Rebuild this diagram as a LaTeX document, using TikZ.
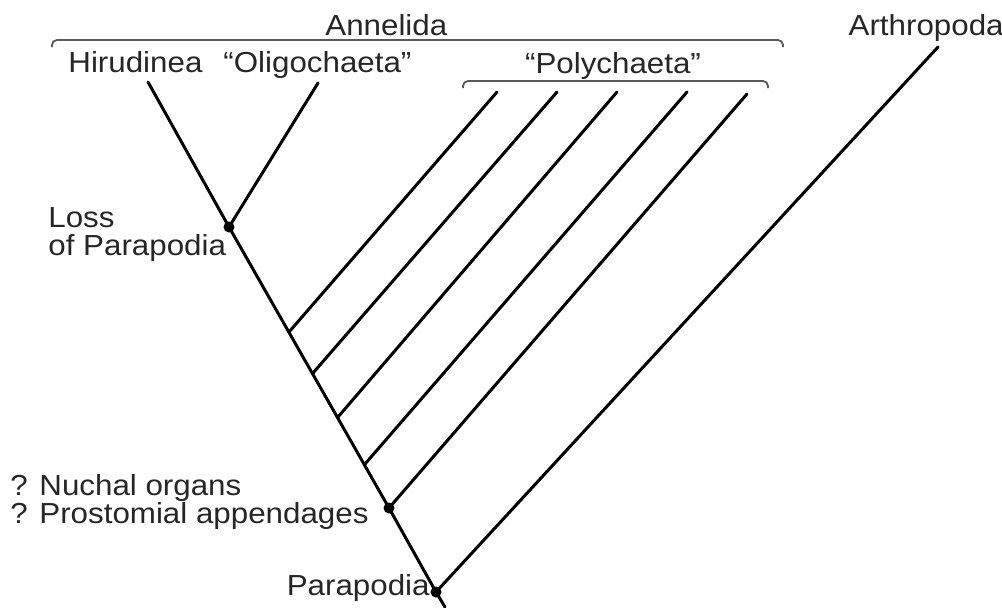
\documentclass[tikz,border=0pt]{standalone}
\usepackage{fontspec}
\setmainfont{Liberation Sans}[FakeStretch=1.08]
\usepackage{tikz}
\usetikzlibrary{positioning}

\begin{document}
\begin{tikzpicture}[
        % un pixel del riferimento = mezzo punto
        x=0.5pt, y=-0.5pt,
        % rami dell'albero
        ramo/.style={line width=1.5pt, line cap=round},
        % parentesi dei gruppi
        gruppo/.style={draw=black!65, line width=0.9pt, rounded corners=2.5pt},
        nodo/.style={circle, fill=black, inner sep=0pt, minimum size=5.5pt},
        etichetta/.style={inner sep=0pt, align=left, font=\fontsize{14.5}{14}\selectfont, text=black!85}
    ]
        \useasboundingbox (0,0) rectangle (1002,607);

        % Nodi interni
        \node[nodo] (radice) at (436,592) {};
        \node[nodo] (proto) at (389,508) {};
        \node[nodo] (perdita) at (229,227) {};
        \coordinate (base) at (445,607);

        % Punti sul tronco
        \coordinate (p1) at (289,332);
        \coordinate (p2) at (313,373);
        \coordinate (p3) at (338,417);
        \coordinate (p4) at (365,464);

        % Foglie
        \coordinate (hiru) at (148,82);
        \coordinate (oligo) at (318,83);
        \coordinate (poly1) at (497,92);
        \coordinate (poly2) at (557,92);
        \coordinate (poly3) at (617,92);
        \coordinate (poly4) at (687,92);
        \coordinate (poly5) at (747,94);
        \coordinate (arthro) at (938,47);

        % Rami
        \draw[ramo] (base) -- (radice.center) -- (proto.center) -- (perdita.center) -- (hiru);
        \draw[ramo] (perdita.center) -- (oligo);
        \draw[ramo] (p1) -- (poly1);
        \draw[ramo] (p2) -- (poly2);
        \draw[ramo] (p3) -- (poly3);
        \draw[ramo] (p4) -- (poly4);
        \draw[ramo] (proto.center) -- (poly5);
        \draw[ramo] (radice.center) -- (arthro);

        % Parentesi
        \draw[gruppo] (52,47) |- (783,40) -- (783,47);
        \draw[gruppo] (463,88) |- (768,81) -- (768,88);

        % Testi (per le righe multiple la base e' l'ultima riga)
        \node[etichetta, anchor=base west] (annelida) at (325,35) {Annelida};
        \node[etichetta, anchor=base east] (arthropoda) at (1004,35) {Arthropoda};
        \node[etichetta, anchor=base west] (hirudinea) at (68,72) {Hirudinea};
        \node[etichetta, anchor=base west] (oligochaeta) at (223,72) {“Oligochaeta”};
        \node[etichetta, anchor=base] (polychaeta) at (613,73) {“Polychaeta”};
        \node[etichetta, anchor=base west] (loss) at (48,255) {Loss\\of Parapodia};
        \node[etichetta, anchor=base west] (nuchal) at (10,523) {? Nuchal organs\\? Prostomial appendages};
        \node[etichetta, anchor=base east] (parapodia) at (430,595) {Parapodia};

    \end{tikzpicture}
\end{document}
